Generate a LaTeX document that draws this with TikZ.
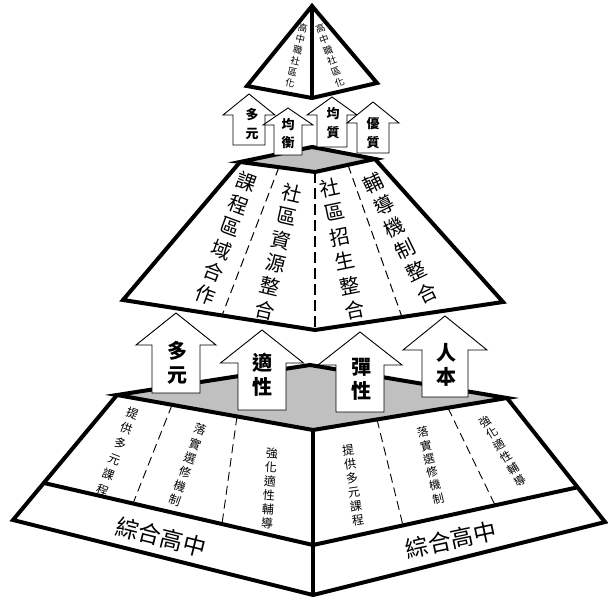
\documentclass[tikz,border=0pt]{standalone}
\usepackage{fontspec}
\newfontfamily\cjk{Noto Sans CJK TC}
\definecolor{facegrey}{RGB}{192,192,192}
\begin{document}
\begin{tikzpicture}[x=1pt,y=-1pt,
  edge/.style={line width=4pt,line join=miter},
  topface/.style={fill=facegrey},
  thindash/.style={line width=0.9pt,dash pattern=on 9pt off 5pt},
  thickdash/.style={line width=2.2pt,dash pattern=on 11pt off 5pt},
  arrowbox/.style={draw=black,fill=white,line width=0.9pt,line join=miter},
  midtext/.style={align=center,inner sep=0pt},
  bigarrowtext/.style={align=center,inner sep=0pt,font=\cjk\bfseries\fontsize{20}{24}\selectfont},
  smallarrowtext/.style={align=center,inner sep=0pt,font=\cjk\bfseries\fontsize{13}{18.5}\selectfont},
  bandtext/.style={inner sep=0pt,font=\cjk\fontsize{23}{23}\selectfont}
]
\useasboundingbox (0,0) rectangle (608,601);
\newcommand{\uparr}[6]{\filldraw[arrowbox] (#1-#5,#6) -- (#1-#5,#4) -- (#1-#3,#4) -- (#1,#2) -- (#1+#3,#4) -- (#1+#5,#4) -- (#1+#5,#6) -- cycle;}

% ---------- bottom pyramid ----------
\coordinate (bTL) at (117,395);
\coordinate (bTB) at (310,365);
\coordinate (bTR) at (507,398);
\coordinate (bTF) at (313,430);
\coordinate (bBL) at (13,520);
\coordinate (bBF) at (313,595);
\coordinate (bBR) at (605,522);
\coordinate (bML) at (44,483);
\coordinate (bMF) at (313,545);
\coordinate (bMR) at (579,487);
\fill[white] (bTL) -- (bTF) -- (bTR) -- (bBR) -- (bBF) -- (bBL) -- cycle;
\filldraw[topface,edge] (bTL) -- (bTB) -- (bTR) -- (bTF) -- cycle;
\draw[edge] (bTL) -- (bBL) -- (bBF) -- (bBR) -- (bTR);
\draw[edge] (bTF) -- (bBF);
\draw[edge] (bML) -- (bMF) -- (bMR);
\coordinate (bd1a) at (172,405);   \coordinate (bd1b) at (133,503.5);
\coordinate (bd2a) at (237,416.5); \coordinate (bd2b) at (222,524);
\coordinate (bd3a) at (377,419.5); \coordinate (bd3b) at (403,525.5);
\coordinate (bd4a) at (448,408);   \coordinate (bd4b) at (495,505);
\draw[thindash] (bd1a) -- (bd1b);
\draw[thindash] (bd2a) -- (bd2b);
\draw[thindash] (bd3a) -- (bd3b);
\draw[thindash] (bd4a) -- (bd4b);
\node[midtext,font=\cjk\fontsize{12}{16.5}\selectfont,rotate=-21] (bl1) at (118,451.5) {提\\供\\多\\元\\課\\程};
\node[midtext,font=\cjk\fontsize{12}{15}\selectfont,rotate=-19.7] (bl2) at (187.5,465) {落\\實\\選\\修\\機\\制};
\node[midtext,font=\cjk\fontsize{12}{14}\selectfont,rotate=-4] (bl3) at (269.5,488) {強\\化\\適\\性\\輔\\導};
\node[midtext,font=\cjk\fontsize{12}{14}\selectfont,rotate=8] (br1) at (353,485) {提\\供\\多\\元\\課\\程};
\node[midtext,font=\cjk\fontsize{11.5}{13.6}\selectfont,rotate=13] (br2) at (430.5,465.5) {落\\實\\選\\修\\機\\制};
\node[midtext,font=\cjk\fontsize{11.5}{13.8}\selectfont,rotate=31] (br3) at (502.5,451) {強\\化\\適\\性\\輔\\導};
\node[bandtext,rotate=-14] (bandl) at (161,537) {綜合高中};
\node[bandtext,rotate=12] (bandr) at (451,540) {綜合高中};

% ---------- middle pyramid ----------
\coordinate (mTL) at (240,162);
\coordinate (mTB) at (312,147);
\coordinate (mTR) at (375,159);
\coordinate (mTF) at (315,172);
\coordinate (mBL) at (123,300);
\coordinate (mBF) at (315,330);
\coordinate (mBR) at (503,302);
\fill[white] (mTL) -- (mTF) -- (mTR) -- (mBR) -- (mBF) -- (mBL) -- cycle;
\filldraw[topface,edge] (mTL) -- (mTB) -- (mTR) -- (mTF) -- cycle;
\draw[edge] (mTL) -- (mBL) -- (mBF) -- (mBR) -- (mTR);
\draw[thickdash] (mTF) -- (mBF);
\coordinate (md1a) at (279,167); \coordinate (md1b) at (222,315.5);
\coordinate (md2a) at (348,165); \coordinate (md2b) at (402,317);
\draw[thindash,line width=1pt] (md1a) -- (md1b);
\draw[thindash,line width=1pt] (md2a) -- (md2b);
\node[midtext,font=\cjk\fontsize{20}{24}\selectfont,rotate=-20.4] (m1) at (226,238.5) {課\\程\\區\\域\\合\\作};
\node[midtext,font=\cjk\fontsize{20}{24}\selectfont,rotate=-13] (m2) at (278.5,251.5) {社\\區\\資\\源\\整\\合};
\node[midtext,font=\cjk\fontsize{20}{25}\selectfont,rotate=11.6] (m3) at (342.5,249) {社\\區\\招\\生\\整\\合};
\node[midtext,font=\cjk\fontsize{20}{24.5}\selectfont,rotate=26] (m4) at (400,238) {輔\\導\\機\\制\\整\\合};

% ---------- big arrows ----------
\uparr{176}{313}{40}{345}{24}{393}
\node[bigarrowtext] (a1) at (177,362.5) {多\\元};
\uparr{262}{330}{41.5}{363}{24}{410}
\node[bigarrowtext] (a2) at (262,375) {適\\性};
\uparr{360}{332}{42}{365}{24}{412}
\node[bigarrowtext] (a3) at (361,379) {彈\\性};
\uparr{445}{316}{42}{350}{23}{397}
\node[bigarrowtext] (a4) at (446,365) {人\\本};

% ---------- small arrows ----------
\uparr{249}{94}{26}{115}{16}{145}
\node[smallarrowtext] (s1) at (252,124) {多\\元};
\uparr{288}{108}{25}{125}{14}{155}
\node[smallarrowtext] (s2) at (288,133.5) {均\\衡};
\uparr{332}{97}{25}{115}{15}{147}
\node[smallarrowtext] (s3) at (333,123) {均\\質};
\uparr{373}{102}{26}{123}{16}{153}
\node[smallarrowtext] (s4) at (373,133) {優\\質};

% ---------- top pyramid ----------
\coordinate (tA) at (312,6);
\coordinate (tL) at (247,86);
\coordinate (tF) at (312,98);
\coordinate (tR) at (377,83);
\filldraw[fill=white,edge] (tA) -- (tL) -- (tF) -- (tR) -- cycle;
\draw[edge] (tA) -- (tF);
\node[midtext,font=\cjk\fontsize{9.5}{11.3}\selectfont,rotate=-13] (t1) at (296.5,55.5) {高\\中\\職\\社\\區\\化};
\node[midtext,font=\cjk\fontsize{9.5}{11.3}\selectfont,rotate=20] (t2) at (330,55.5) {高\\中\\職\\社\\區\\化};
\end{tikzpicture}
\end{document}
